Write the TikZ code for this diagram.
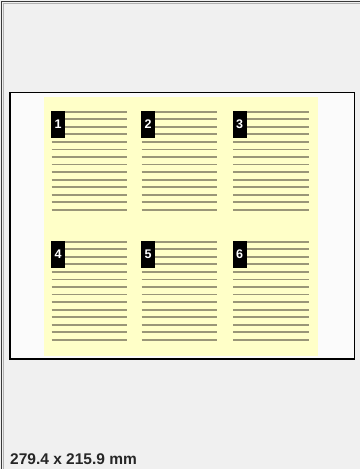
\documentclass[tikz,border=0pt]{standalone}
\usepackage{fontspec}
\setmainfont{Liberation Sans}
\definecolor{bgc}{HTML}{F0F0F0}
\definecolor{yel}{HTML}{FFFFC8}
\definecolor{rulec}{HTML}{9A9678}
\definecolor{framec}{HTML}{3A3A3A}
\tikzset{
  numbox/.style={fill=black, text=white, font=\bfseries\fontsize{12.5}{14}\selectfont, minimum width=13.8pt, minimum height=27pt, inner sep=0pt, outer sep=0pt, anchor=north west},
  textrule/.style={draw=rulec, line width=1.8pt},
}
\begin{document}
\begin{tikzpicture}[x=1pt,y=-1pt]
\useasboundingbox (0,0) rectangle (360,469);
\fill[bgc] (0,0) rectangle (360,469);
\draw[framec, line width=1.5pt] (1.5,469) -- (1.5,1.5) -- (360,1.5);
\draw[gray!60, line width=0.6pt] (3.3,469) -- (3.3,3.3) -- (360,3.3);
% page
\fill[white!97!gray] (10,92.5) rectangle (354.5,359);
\fill[yel] (44,97) rectangle (318,356);
\draw[black, line width=1.2pt] (10,92.5) rectangle (354.5,359);
% columns
\foreach \cx/\ry/\n [count=\i] in {51.7/111.7/1, 141.7/111.7/2, 233.3/111.7/3, 51.7/241.7/4, 141.7/241.7/5, 233.3/241.7/6}{
  \foreach \k in {0,...,13}{
    \draw[textrule] (\cx,\ry+\k*7.55) -- ++(75.3,0);
  }
  \node[numbox] (n\n) at (\cx-0.6,\ry-0.8) {\n};
}
\node[anchor=base west, font=\bfseries\fontsize{15.5}{17}\selectfont, text=black!85, inner sep=0pt] (dim) at (10,464.5) {279.4 x 215.9 mm};
\end{tikzpicture}
\end{document}
